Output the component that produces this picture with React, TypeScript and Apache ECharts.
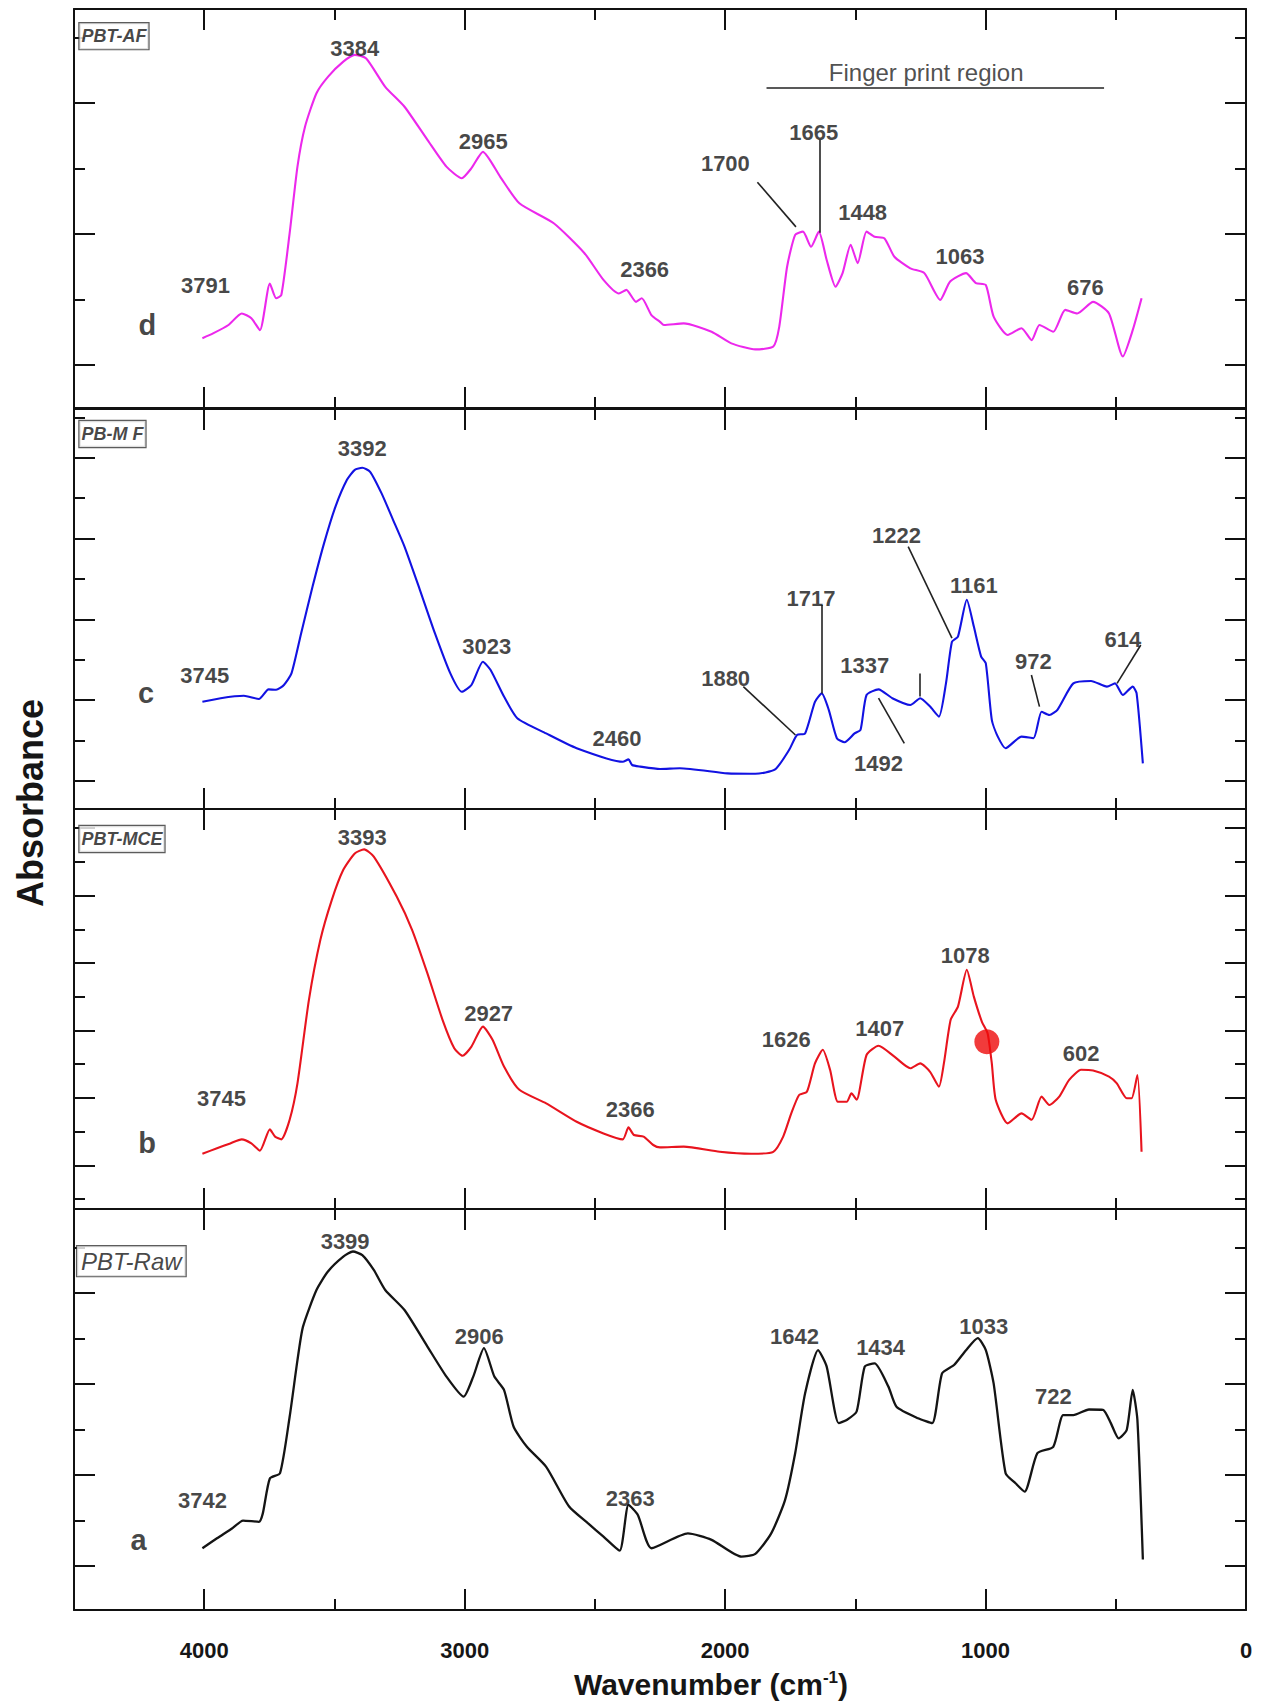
import React, { useEffect, useRef } from "react";
import * as echarts from "echarts";

// ---------- data (wavenumber cm-1, relative absorbance 0-100 per panel) ----------
const pbtAF: number[][] = [
  [4007, 17.5], [3966, 18.7], [3907, 20.8], [3856, 23.7], [3819, 22.5], [3786, 19.5], [3748, 31.2], [3724, 27.5],
  [3704, 28.3], [3672, 43.8], [3642, 60.5], [3613, 70.5], [3569, 78.9], [3525, 83.0], [3466, 86.8], [3422, 88.5],
  [3378, 87.6], [3305, 80.5], [3231, 75.5], [3143, 67.2], [3070, 60.5], [3011, 57.6], [2974, 60.1], [2930, 64.2],
  [2864, 58.0], [2790, 51.3], [2658, 46.3], [2540, 38.8], [2467, 32.1], [2408, 28.7], [2379, 29.6], [2342, 26.6],
  [2320, 27.5], [2283, 23.3], [2250, 21.6], [2235, 20.8], [2159, 21.2], [2052, 19.1], [1976, 16.2], [1884, 14.7],
  [1815, 15.4], [1792, 20.4], [1762, 35.4], [1731, 43.4], [1701, 44.2], [1670, 40.4], [1640, 44.2], [1610, 37.1],
  [1576, 30.4], [1549, 33.8], [1518, 40.9], [1491, 36.3], [1457, 44.2], [1426, 42.9], [1388, 42.5], [1350, 37.9],
  [1289, 35.0], [1235, 33.8], [1174, 27.1], [1136, 31.7], [1075, 33.8], [1037, 31.3], [999, 30.8], [969, 22.9],
  [915, 18.3], [862, 20.0], [823, 17.0], [793, 20.8], [740, 19.1], [694, 24.6], [648, 23.7], [587, 26.6],
  [526, 23.7], [473, 12.9], [435, 19.5], [401, 27.5],
];

const pbMF: number[][] = [
  [4007, 26.8], [3937, 27.7], [3848, 28.3], [3790, 27.5], [3753, 29.9], [3724, 29.8], [3694, 31.0], [3665, 33.9],
  [3628, 43.9], [3584, 55.6], [3540, 66.4], [3496, 75.6], [3452, 82.3], [3422, 84.8], [3393, 85.3], [3363, 84.3],
  [3319, 78.9], [3275, 72.3], [3231, 65.6], [3172, 54.8], [3114, 43.9], [3055, 33.9], [3011, 29.3], [2974, 31.0],
  [2930, 36.8], [2901, 34.8], [2849, 28.1], [2798, 22.7], [2687, 18.9], [2570, 15.2], [2393, 11.8], [2371, 12.4],
  [2357, 11.0], [2326, 10.6], [2250, 10.0], [2174, 10.2], [1991, 8.9], [1884, 8.8], [1808, 9.9], [1754, 14.8],
  [1724, 18.5], [1693, 18.9], [1655, 26.8], [1629, 28.9], [1602, 24.8], [1571, 17.7], [1541, 16.7], [1503, 18.9],
  [1480, 19.8], [1457, 28.5], [1411, 29.9], [1358, 27.7], [1289, 26.0], [1251, 27.7], [1213, 25.6], [1179, 23.1],
  [1152, 31.4], [1129, 41.8], [1106, 43.1], [1072, 52.3], [1045, 45.6], [1017, 38.1], [999, 36.4], [976, 22.3],
  [953, 18.1], [923, 15.2], [862, 18.1], [816, 17.7], [785, 24.3], [755, 23.5], [724, 24.8], [663, 31.4],
  [595, 32.0], [534, 30.6], [503, 31.4], [473, 28.5], [435, 30.6], [420, 28.9], [396, 11.4],
];

const pbtMCE: number[][] = [
  [4007, 13.8], [3951, 15.2], [3900, 16.4], [3856, 17.4], [3819, 16.4], [3786, 14.6], [3748, 19.9], [3728, 18.1],
  [3704, 17.4], [3672, 22.3], [3642, 31.4], [3598, 52.3], [3554, 67.3], [3510, 77.3], [3466, 84.8], [3422, 88.9],
  [3386, 89.9], [3349, 88.1], [3261, 78.1], [3202, 69.8], [3143, 58.9], [3085, 47.3], [3040, 40.2], [3008, 38.3],
  [2974, 40.6], [2930, 45.6], [2893, 42.3], [2849, 35.6], [2790, 29.8], [2687, 26.4], [2570, 21.8], [2467, 18.9],
  [2393, 17.4], [2371, 20.4], [2350, 18.5], [2313, 18.1], [2276, 16.0], [2250, 15.4], [2159, 15.6], [2021, 14.3],
  [1900, 13.8], [1815, 14.3], [1777, 18.1], [1746, 23.9], [1716, 28.5], [1686, 29.3], [1655, 36.4], [1625, 39.8],
  [1597, 34.8], [1567, 26.8], [1533, 26.8], [1515, 28.9], [1495, 27.3], [1457, 38.5], [1411, 40.8], [1350, 38.1],
  [1289, 35.2], [1251, 36.4], [1213, 34.3], [1179, 30.6], [1160, 36.4], [1134, 47.3], [1106, 50.6], [1072, 59.8],
  [1045, 53.1], [1014, 46.8], [992, 43.9], [976, 36.4], [961, 27.3], [915, 21.4], [862, 23.9], [823, 22.3],
  [785, 28.1], [755, 26.0], [717, 28.1], [679, 32.3], [633, 34.8], [587, 34.6], [526, 33.1], [496, 31.4],
  [458, 27.7], [439, 27.7], [417, 33.5], [401, 14.3],
];

const pbtRaw: number[][] = [
  [4007, 15.4], [3951, 17.9], [3892, 20.4], [3851, 22.3], [3790, 22.0], [3775, 24.1], [3748, 32.8], [3709, 34.1],
  [3672, 48.2], [3642, 62.3], [3621, 70.6], [3569, 79.8], [3525, 84.4], [3466, 88.1], [3429, 89.4], [3393, 88.5],
  [3349, 84.8], [3305, 79.8], [3231, 74.8], [3143, 65.7], [3070, 58.2], [3004, 53.2], [2967, 58.2], [2926, 65.3],
  [2886, 58.2], [2849, 54.9], [2812, 45.7], [2761, 40.7], [2687, 35.7], [2599, 25.8], [2526, 21.6], [2467, 18.3],
  [2405, 14.8], [2371, 26.2], [2335, 23.7], [2283, 15.4], [2143, 19.1], [2052, 17.5], [1937, 13.3], [1884, 14.0],
  [1823, 19.1], [1770, 27.4], [1731, 39.1], [1693, 54.0], [1643, 64.8], [1610, 60.7], [1564, 46.6], [1533, 47.4],
  [1495, 49.5], [1464, 60.7], [1426, 61.5], [1373, 55.7], [1342, 50.7], [1259, 47.8], [1205, 46.6], [1167, 59.0],
  [1121, 61.1], [1075, 64.8], [1030, 67.8], [999, 64.8], [969, 56.5], [923, 34.1], [885, 31.6], [850, 29.5],
  [801, 39.1], [740, 40.7], [702, 48.6], [663, 48.6], [603, 50.0], [549, 49.9], [519, 46.6], [489, 42.8],
  [458, 44.9], [435, 54.9], [417, 47.4], [396, 12.6],
];

// peak annotations [wavenumber, y, text]
const afNotes: [number, number, string][] = [
  [3422, 90.2, "3384"], [2929, 66.7, "2965"], [3995, 30.8, "3791"], [2309, 34.6, "2366"], [1999, 61.3, "1700"],
  [1660, 69.0, "1665"], [1472, 48.9, "1448"], [1098, 37.9, "1063"], [617, 30.2, "676"],
];
const mfNotes: [number, number, string][] = [
  [3393, 90.2, "3392"], [2915, 40.6, "3023"], [3998, 33.5, "3745"], [2415, 17.7, "2460"], [1998, 32.7, "1880"],
  [1670, 52.7, "1717"], [1464, 35.8, "1337"], [1411, 11.4, "1492"], [1342, 68.5, "1222"], [1045, 55.8, "1161"],
  [816, 36.8, "972"], [473, 42.4, "614"],
];
const mceNotes: [number, number, string][] = [
  [3393, 92.9, "3393"], [2908, 48.9, "2927"], [3934, 27.7, "3745"], [2364, 24.8, "2366"], [1765, 42.4, "1626"],
  [1406, 45.2, "1407"], [1078, 63.5, "1078"], [633, 38.8, "602"],
];
const rawNotes: [number, number, string][] = [
  [3459, 91.8, "3399"], [2944, 68.2, "2906"], [4007, 27.4, "3742"], [2364, 27.9, "2363"], [1734, 68.2, "1642"],
  [1403, 65.5, "1434"], [1007, 70.6, "1033"], [740, 53.2, "722"],
];

// pointer lines [x1, y1, x2, y2]
const afPointers: number[][] = [[1876, 56.6, 1728, 45.4], [1637, 67.2, 1637, 43.9]];
const mfPointers: number[][] = [
  [1930, 30.6, 1730, 18.5], [1629, 51.0, 1629, 28.9], [1312, 16.4, 1411, 27.7], [1297, 65.6, 1129, 42.7],
  [824, 33.5, 793, 25.6], [404, 41.0, 495, 31.4], [1254, 33.9, 1254, 28.1],
];

// panel letters and sample names (sample-name point = left edge of its box)
const letters: [number, number, string][] = [[4218, 20.8, "d"], [4223, 29.1, "c"], [4219, 16.4, "b"], [4252, 17.5, "a"]];
const sampleNames: [number, number, string][] = [
  [4481, 93.2, "PBT-AF"], [4481, 93.75, "PB-M F"], [4481, 92.5, "PBT-MCE"], [4490, 87.0, "PBT-Raw"],
];

// fingerprint region marker (panel d)
const fingerText: [number, number, string] = [1228, 84.2, "Finger print region"];
const fingerLine: number[] = [1841, 80.2, 545, 80.2];

// highlighted point (panel b)
const redDot: number[] = [995, 41.8];

// ticks
const X_MAJOR = [1000, 2000, 3000, 4000];
const X_MINOR = [500, 1500, 2500, 3500];
const X_LABELS = [0, 1000, 2000, 3000, 4000];
const afTickMajor = [10.8, 43.6, 76.5];
const afTickMinor = [27.2, 60.0, 92.9];
const mfTickMajor = [7, 27.2, 47.4, 67.6, 87.8];
const mfTickMinor = [17.1, 37.3, 57.5, 77.7, 97.9];
const mceTickMajor = [10.9, 27.8, 44.6, 61.5, 78.3, 95.2];
const mceTickMinor = [2.5, 19.4, 36.2, 53.1, 69.9, 86.8];
const rawTickMajor = [11, 33.7, 56.3, 79];
const rawTickMinor = [22.3, 45, 67.7, 90.3];

// ---------- layout / style ----------
const FONT = "Liberation Sans";
const INK = "#161616";
const FRAME = "#111";

const PANELS = [
  { top: 9, height: 399, data: pbtAF, color: "#ec28ec", notes: afNotes, pointers: afPointers, yMajor: afTickMajor, yMinor: afTickMinor, raw: false },
  { top: 409, height: 400, data: pbMF, color: "#1212e2", notes: mfNotes, pointers: mfPointers, yMajor: mfTickMajor, yMinor: mfTickMinor, raw: false },
  { top: 809, height: 400, data: pbtMCE, color: "#e8141e", notes: mceNotes, pointers: [] as number[][], yMajor: mceTickMajor, yMinor: mceTickMinor, raw: false },
  { top: 1209, height: 401, data: pbtRaw, color: "#141414", notes: rawNotes, pointers: [] as number[][], yMajor: rawTickMajor, yMinor: rawTickMinor, raw: true },
];

function xAxisDef(i: number, position: string, major: boolean, labels: boolean) {
  return {
    type: "value", gridIndex: i, min: 0, max: 4500, inverse: true, position,
    axisLine: { show: major, onZero: false, lineStyle: { color: FRAME, width: 2 } },
    axisTick: { show: true, inside: true, length: major ? 21 : 11, customValues: major ? X_MAJOR : X_MINOR, lineStyle: { color: FRAME, width: 2 } },
    axisLabel: labels
      ? { show: true, customValues: X_LABELS, formatter: (v: number) => String(v), margin: 29, fontFamily: FONT, fontWeight: "bold", fontSize: 22, color: INK }
      : { show: false },
    splitLine: { show: false },
  };
}

function yAxisDef(i: number, position: string, ticks: number[], major: boolean) {
  return {
    type: "value", gridIndex: i, min: 0, max: 100, position,
    axisLine: { show: major, onZero: false, lineStyle: { color: FRAME, width: 2 } },
    axisTick: { show: true, inside: true, length: major ? 21 : 11, customValues: ticks, lineStyle: { color: FRAME, width: 2 } },
    axisLabel: { show: false },
    splitLine: { show: false },
  };
}

function buildOption() {
  const grid: any[] = [];
  const xAxis: any[] = [];
  const yAxis: any[] = [];
  const series: any[] = [];

  PANELS.forEach((p, i) => {
    const last = i === PANELS.length - 1;
    grid.push({ left: 74, width: 1172, top: p.top, height: p.height, show: false });
    xAxis.push(xAxisDef(i, "bottom", true, last));
    xAxis.push(xAxisDef(i, "bottom", false, false));
    xAxis.push(xAxisDef(i, "top", true, false));
    xAxis.push(xAxisDef(i, "top", false, false));
    yAxis.push(yAxisDef(i, "left", p.yMajor, true));
    yAxis.push(yAxisDef(i, "left", p.yMinor, false));
    yAxis.push(yAxisDef(i, "right", p.yMajor, true));
    yAxis.push(yAxisDef(i, "right", p.yMinor, false));

    const ax = { xAxisIndex: 4 * i, yAxisIndex: 4 * i };

    series.push({
      type: "line", ...ax, data: p.data, showSymbol: false, symbol: "none", smooth: 0.2, silent: true, z: 3,
      lineStyle: { color: p.color, width: p.raw ? 2.3 : 2.1 },
    });

    series.push({
      type: "scatter", ...ax, silent: true, z: 5, symbolSize: 1, itemStyle: { color: "transparent" },
      data: p.notes.map((n) => ({ value: [n[0], n[1]], name: n[2] })),
      label: { show: true, position: "inside", formatter: "{b}", fontFamily: FONT, fontWeight: "bold", fontSize: 22, color: INK },
      markLine: p.pointers.length
        ? {
            silent: true, symbol: ["none", "none"], label: { show: false }, animation: false,
            lineStyle: { color: "#222", width: 1.6, type: "solid" },
            data: p.pointers.map((l) => [{ coord: [l[0], l[1]] }, { coord: [l[2], l[3]] }]),
          }
        : undefined,
    });

    const lt = letters[i];
    series.push({
      type: "scatter", ...ax, silent: true, z: 5, symbolSize: 1, itemStyle: { color: "transparent" },
      data: [{ value: [lt[0], lt[1]], name: lt[2] }],
      label: { show: true, position: "inside", formatter: "{b}", fontFamily: FONT, fontWeight: "bold", fontSize: 29, color: INK },
    });

    const sn = sampleNames[i];
    series.push({
      type: "scatter", ...ax, silent: true, z: 6, symbolSize: 1, itemStyle: { color: "transparent" },
      data: [{ value: [sn[0], sn[1]], name: sn[2] }],
      label: {
        show: true, position: "right", distance: 0, formatter: "{b}", fontFamily: FONT,
        fontWeight: p.raw ? "normal" : "bold", fontStyle: "italic", fontSize: p.raw ? 24 : 18,
        lineHeight: p.raw ? 24 : 22, color: INK, backgroundColor: "#fff", borderColor: "#333", borderWidth: 1.2,
        padding: p.raw ? [3, 4, 3, 4] : [2, 2, 2, 2],
      },
    });

    if (i === 0) {
      series.push({
        type: "scatter", ...ax, silent: true, z: 5, symbolSize: 1, itemStyle: { color: "transparent" },
        data: [{ value: [fingerText[0], fingerText[1]], name: fingerText[2] }],
        label: { show: true, position: "inside", formatter: "{b}", fontFamily: FONT, fontWeight: "normal", fontSize: 24, color: "#222" },
        markLine: {
          silent: true, symbol: ["none", "none"], label: { show: false }, animation: false,
          lineStyle: { color: "#222", width: 1.6, type: "solid" },
          data: [[{ coord: [fingerLine[0], fingerLine[1]] }, { coord: [fingerLine[2], fingerLine[3]] }]],
        },
      });
    }
    if (i === 2) {
      series.push({
        type: "scatter", ...ax, silent: true, z: 6, symbol: "circle", symbolSize: 25,
        itemStyle: { color: "#ee0a0a" }, data: [redDot],
      });
    }
  });

  return {
    animation: false,
    backgroundColor: "#fff",
    grid, xAxis, yAxis, series,
    graphic: [
      {
        type: "text", x: 711, y: 1684, silent: true,
        style: {
          text: "Wavenumber (cm{sup|-1})", fontFamily: FONT, fontWeight: "bold", fontSize: 30, fill: INK,
          align: "center", verticalAlign: "middle",
          rich: { sup: { fontFamily: FONT, fontWeight: "bold", fontSize: 17, fill: INK, verticalAlign: "top" } },
        },
      },
      {
        type: "text", x: 30, y: 803, rotation: Math.PI / 2, silent: true,
        style: { text: "Absorbance", fontFamily: FONT, fontWeight: "bold", fontSize: 36, fill: INK, align: "center", verticalAlign: "middle" },
      },
    ],
  };
}

export default function App() {
  const ref = useRef<HTMLDivElement>(null);
  useEffect(() => {
    if (!ref.current) return;
    const chart = echarts.init(ref.current, null, { renderer: "svg" });
    chart.setOption(buildOption() as any);
    return () => chart.dispose();
  }, []);
  return <div ref={ref} style={{ position: "absolute", left: 0, top: 0, width: 1263, height: 1702, background: "#fff" }} />;
}
